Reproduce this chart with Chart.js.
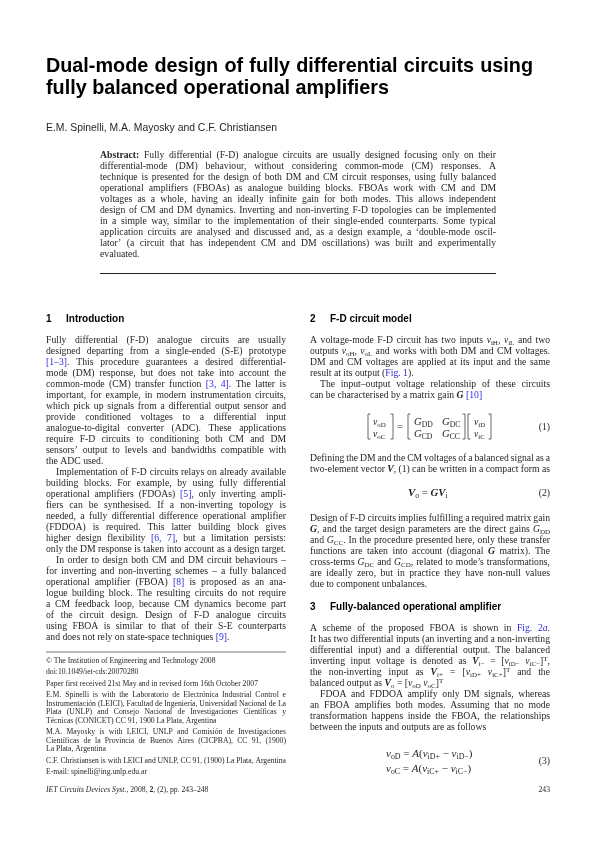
<!DOCTYPE html>
<html><head><meta charset="utf-8">
<style>html,body{margin:0;padding:0;background:#fff}canvas{display:block}</style>
<script src="https://cdn.jsdelivr.net/npm/chart.js@4"></script>
</head><body><canvas id="page" width="595" height="842"></canvas>
<script>
const TITLE = ["Dual-mode design of fully differential circuits using","<fully balanced operational amplifiers"];
const AUTHORS = ["<E.M. Spinelli, M.A. Mayosky and C.F. Christiansen"];
const ABSTRACT = [
"{b|Abstract:} Fully differential (F-D) analogue circuits are usually designed focusing only on their",
"differential-mode (DM) behaviour, without considering common-mode (CM) responses. A",
"technique is presented for the design of both DM and CM circuit responses, using fully balanced",
"operational amplifiers (FBOAs) as analogue building blocks. FBOAs work with CM and DM",
"voltages as a whole, having an ideally infinite gain for both modes. This allows independent",
"design of CM and DM dynamics. Inverting and non-inverting F-D topologies can be implemented",
"in a simple way, similar to the implementation of their single-ended counterparts. Some typical",
"application circuits are analysed and discussed and, as a design example, a ‘double-mode oscil-",
"lator’ (a circuit that has independent CM and DM oscillations) was built and experimentally",
"<evaluated."];
const COL1 = [
"Fully differential (F-D) analogue circuits are usually",
"designed departing from a single-ended (S-E) prototype",
"{l|[1–3]}. This procedure guarantees a desired differential-",
"mode (DM) response, but does not take into account the",
"common-mode (CM) transfer function {l|[3, 4]}. The latter is",
"important, for example, in modern instrumentation circuits,",
"which pick up signals from a differential output sensor and",
"provide conditioned voltages to a differential input",
"analogue-to-digital converter (ADC). These applications",
"require F-D circuits to conditioning both CM and DM",
"sensors’ output to levels and bandwidths compatible with",
"<the ADC used.",
"\tImplementation of F-D circuits relays on already available",
"building blocks. For example, by using fully differential",
"operational amplifiers (FDOAs) {l|[5]}, only inverting ampli-",
"fiers can be synthesised. If a non-inverting topology is",
"needed, a fully differential difference operational amplifier",
"(FDDOA) is required. This latter building block gives",
"higher design flexibility {l|[6, 7]}, but a limitation persists:",
"only the DM response is taken into account as a design target.",
"\tIn order to design both CM and DM circuit behaviours –",
"for inverting and non-inverting schemes – a fully balanced",
"operational amplifier (FBOA) {l|[8]} is proposed as an ana-",
"logue building block. The resulting circuits do not require",
"a CM feedback loop, because CM dynamics become part",
"of the circuit design. Design of F-D analogue circuits",
"using FBOA is similar to that of their S-E counterparts",
"<and does not rely on state-space techniques {l|[9]}."];
const NOTE_A = ["<© The Institution of Engineering and Technology 2008"];
const NOTE_B = ["<doi:10.1049/iet-cds:20070280"];
const NOTE_C = ["<Paper first received 21st May and in revised form 16th October 2007"];
const NOTE_D = [
"E.M. Spinelli is with the Laboratorio de Electrónica Industrial Control e",
"Instrumentación (LEICI), Facultad de Ingeniería, Universidad Nacional de La",
"Plata (UNLP) and Consejo Nacional de Investigaciones Científicas y",
"<Técnicas (CONICET) CC 91, 1900 La Plata, Argentina"];
const NOTE_E = [
"M.A. Mayosky is with LEICI, UNLP and Comisión de Investigaciones",
"Científicas de la Provincia de Buenos Aires (CICPBA), CC 91, (1900)",
"<La Plata, Argentina"];
const NOTE_F = ["C.F. Christiansen is with LEICI and UNLP, CC 91, (1900) La Plata, Argentina"];
const NOTE_G = ["<E-mail: spinelli@ing.unlp.edu.ar"];
const FOOTER = ["<{i|IET Circuits Devices Syst.}, 2008, {b|2}, (2), pp. 243–248"];
const PAGE_NO = ["243"];
const SEC1 = "1", SEC1_T = "Introduction", SEC2 = "2", SEC2_T = "F-D circuit model", SEC3 = "3", SEC3_T = "Fully-balanced operational amplifier";
const COL2A = [
"A voltage-mode F-D circuit has two inputs {i|v}{s|iH}, {i|v}{s|iL} and two",
"outputs {i|v}{s|oH}, {i|v}{s|oL} and works with both DM and CM voltages.",
"DM and CM voltages are applied at its input and the same",
"<result at its output ({l|Fig. 1}).",
"\tThe input–output voltage relationship of these circuits",
"<can be characterised by a matrix gain {bi|G} {l|[10]}"];
const COL2B = [
"Defining the DM and the CM voltages of a balanced signal as a",
"two-element vector {bi|V}, (1) can be written in a compact form as"];
const COL2C = [
"Design of F-D circuits implies fulfilling a required matrix gain",
"{bi|G}, and the target design parameters are the direct gains {i|G}{s|DD}",
"and {i|G}{s|CC}. In the procedure presented here, only these transfer",
"functions are taken into account (diagonal {bi|G} matrix). The",
"cross-terms {i|G}{s|DC} and {i|G}{s|CD}, related to mode’s transformations,",
"are ideally zero, but in practice they have non-null values",
"<due to component unbalances."];
const COL2D = [
"A scheme of the proposed FBOA is shown in {l|Fig. 2}{li|a}.",
"It has two differential inputs (an inverting and a non-inverting",
"differential input) and a differential output. The balanced",
"inverting input voltage is denoted as {bi|V}{s|i−} = [{i|v}{s|iD−}  {i|v}{s|iC−}]{u|T},",
"the non-inverting input as {bi|V}{s|i+} = [{i|v}{s|iD+}  {i|v}{s|iC+}]{u|T} and the",
"<balanced output as {bi|V}{s|o} = [{i|v}{s|oD} {i|v}{s|oC}]{u|T}",
"\tFDOA and FDDOA amplify only DM signals, whereas",
"an FBOA amplifies both modes. Assuming that no mode",
"transformation happens inside the FBOA, the relationships",
"<between the inputs and outputs are as follows"];
const EQ1_OUT = ["<{i|v}{s|oD}","<{i|v}{s|oC}"];
const EQ1_G1 = ["<{i|G}{s|DD}","<{i|G}{s|CD}"];
const EQ1_G2 = ["<{i|G}{s|DC}","<{i|G}{s|CC}"];
const EQ1_IN = ["<{i|v}{s|iD}","<{i|v}{s|iC}"];
const EQ1_SIGN = ["<="];
const EQ2 = ["<{bi|V}{s|o} = {bi|GV}{s|i}"];
const EQ3 = ["<{i|v}{s|oD} = {i|A}({i|v}{s|iD+} − {i|v}{s|iD−})","<{i|v}{s|oC} = {i|A}({i|v}{s|iC+} − {i|v}{s|iC−})"];
const EQ_NUMS = ["(1)","(2)","(3)"];

const SERIF = '"Liberation Serif"', SANS = '"Liberation Sans"';
const INK = '#262626', LINK = '#2b2bd8';
const BODY = 9.7, NOTE = 7.7;

const BLOCKS = [
 {lines:TITLE, x:46, y:72, w:487, lh:22, size:19.8, face:SANS, weight:'bold', color:'#000'},
 {lines:AUTHORS, x:46, y:131, w:230, lh:11, size:10.4, face:SANS},
 {lines:ABSTRACT, x:100, y:158, w:396, lh:11, size:BODY},
 {lines:COL1, x:46, y:343, w:240, lh:11, size:BODY},
 {lines:NOTE_A, x:46, y:663, w:240, lh:8.6, size:NOTE},
 {lines:NOTE_B, x:46, y:674, w:240, lh:8.6, size:NOTE},
 {lines:NOTE_C, x:46, y:686, w:240, lh:8.6, size:NOTE},
 {lines:NOTE_D, x:46, y:697, w:240, lh:8.6, size:NOTE},
 {lines:NOTE_E, x:46, y:734, w:240, lh:8.6, size:NOTE},
 {lines:NOTE_F, x:46, y:763, w:240, lh:8.6, size:NOTE},
 {lines:NOTE_G, x:46, y:774, w:240, lh:8.6, size:NOTE},
 {lines:FOOTER, x:46, y:792, w:240, lh:9, size:NOTE},
 {lines:PAGE_NO, x:550, y:792, size:NOTE, align:'right'},
 {lines:[SEC1], x:46, y:322, size:10, face:SANS, weight:'bold', align:'left', color:'#000'},
 {lines:[SEC1_T], x:66, y:322, size:10, face:SANS, weight:'bold', align:'left', color:'#000'},
 {lines:[SEC2], x:310, y:322, size:10, face:SANS, weight:'bold', align:'left', color:'#000'},
 {lines:[SEC2_T], x:330, y:322, size:10, face:SANS, weight:'bold', align:'left', color:'#000'},
 {lines:[SEC3], x:310, y:610, size:10, face:SANS, weight:'bold', align:'left', color:'#000'},
 {lines:[SEC3_T], x:330, y:610, size:10, face:SANS, weight:'bold', align:'left', color:'#000'},
 {lines:COL2A, x:310, y:343, w:240, lh:11, size:BODY},
 {lines:COL2B, x:310, y:461, w:240, lh:11, size:BODY},
 {lines:COL2C, x:310, y:521, w:240, lh:11, size:BODY},
 {lines:COL2D, x:310, y:631, w:240, lh:11, size:BODY},
 {lines:EQ1_OUT, x:373, y:425, lh:11.5, size:BODY},
 {lines:EQ1_SIGN, x:397, y:430, size:BODY+1},
 {lines:EQ1_G1, x:414, y:425, lh:11.5, size:BODY+1},
 {lines:EQ1_G2, x:442, y:425, lh:11.5, size:BODY+1},
 {lines:EQ1_IN, x:474, y:425, lh:11.5, size:BODY},
 {lines:EQ2, x:408, y:496, size:BODY+1.1},
 {lines:EQ3, x:386, y:757, lh:14.5, size:BODY+1.3},
 {lines:[EQ_NUMS[0]], x:550, y:430, size:BODY, align:'right'},
 {lines:[EQ_NUMS[1]], x:550, y:496, size:BODY, align:'right'},
 {lines:[EQ_NUMS[2]], x:550, y:764, size:BODY, align:'right'}
];
const RULES = [
 {x1:100, x2:496, y:273.5, color:'#222', width:1},
 {x1:46, x2:286, y:652, color:'#777', width:1}
];
// [x, top, bottom, direction]
const BRACKETS = [[368,414,439,1],[393,414,439,-1],[408,414,439,1],[465,414,439,-1],[468,414,439,1],[491,414,439,-1]];

function fontFor(style, b){
  const s = b.size, face = b.face || SERIF, w = b.weight || 'normal';
  switch(style){
    case 'b': return `bold ${s}px ${face}`;
    case 'i': case 'li': return `italic ${w} ${s}px ${face}`;
    case 'bi': return `italic bold ${s}px ${face}`;
    case 's': case 'u': return `${w} ${s*0.72}px ${face}`;
    default: return `${w} ${s}px ${face}`;
  }
}
function parse(line){
  const re=/\{(\w+)\|([^}]*)\}/g, segs=[]; let last=0,m;
  while((m=re.exec(line))){ if(m.index>last) segs.push(['',line.slice(last,m.index)]); segs.push([m[1],m[2]]); last=re.lastIndex; }
  if(last<line.length) segs.push(['',line.slice(last)]);
  const words=[[]];
  segs.forEach(([st,tx])=>{
    const parts=tx.split(/ +/);
    parts.forEach((p,i)=>{ if(i>0) words.push([]); if(p) words[words.length-1].push([st,p]); });
  });
  return words.filter(w=>w.length);
}
function drawLine(ctx,raw,x,y,b){
  let line=raw, just=!!b.w && !b.align;
  if(line[0]==='<'){just=false;line=line.slice(1);}
  let xs=x, w=b.w;
  if(line[0]==='\t'){line=line.slice(1);xs+=10;w-=10;}
  const words=parse(line);
  const ww=words.map(wd=>wd.reduce((a,[st,t])=>{ctx.font=fontFor(st,b);return a+ctx.measureText(t).width;},0));
  ctx.font=fontFor('',b);
  let gap=ctx.measureText(' ').width;
  const tot=ww.reduce((a,c)=>a+c,0);
  if(just&&words.length>1) gap=(w-tot)/(words.length-1);
  if(b.align==='right') xs=x-(tot+gap*(words.length-1));
  words.forEach((wd,i)=>{
    wd.forEach(([st,t])=>{
      ctx.font=fontFor(st,b);
      ctx.fillStyle=(st==='l'||st==='li')?LINK:(b.color||INK);
      const dy=st==='s'?b.size*0.22:st==='u'?-b.size*0.36:0;
      ctx.fillText(t,xs,y+dy);
      xs+=ctx.measureText(t).width;
    });
    xs+=gap;
  });
}
const pagePlugin={id:'pageText',afterDraw(chart){
  const ctx=chart.ctx; ctx.save();
  ctx.textBaseline='alphabetic'; ctx.textAlign='left';
  BLOCKS.forEach(b=>b.lines.forEach((l,i)=>drawLine(ctx,l,b.x,b.y+i*(b.lh||0),b)));
  RULES.forEach(r=>{ctx.strokeStyle=r.color;ctx.lineWidth=r.width;ctx.beginPath();ctx.moveTo(r.x1,r.y);ctx.lineTo(r.x2,r.y);ctx.stroke();});
  ctx.strokeStyle=INK;ctx.lineWidth=0.7;
  BRACKETS.forEach(([x,t,bt,d])=>{ctx.beginPath();ctx.moveTo(x+2.5*d,t);ctx.lineTo(x,t);ctx.lineTo(x,bt);ctx.lineTo(x+2.5*d,bt);ctx.stroke();});
  ctx.restore();
}};
new Chart(document.getElementById('page'),{
  type:'scatter',
  data:{datasets:[]},
  options:{responsive:false,animation:false,devicePixelRatio:1,
    plugins:{legend:{display:false},tooltip:{enabled:false},title:{display:false}},
    scales:{x:{display:false},y:{display:false}}},
  plugins:[pagePlugin]
});
</script></body></html>
